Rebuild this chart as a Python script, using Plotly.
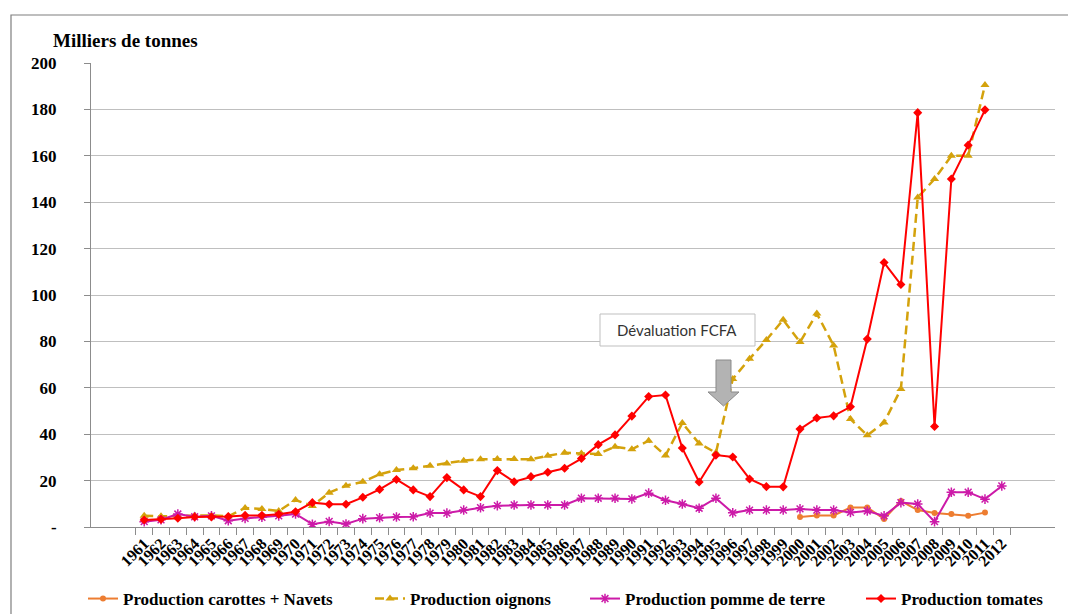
import plotly.graph_objects as go

# Years on the category axis
years = [str(y) for y in range(1961, 2013)]

# Milliers de tonnes (None = no data)
carottes = [None] * 39 + [4.3, 5.0, 5.0, 8.4, 8.4, 3.5, 11.2, 7.3, 6.0, 5.6, 4.9, 6.2, None]
oignons = [4.8, 4.6, 4.8, 5.0, 5.0, 4.6, 8.2, 7.8, 6.9, 11.6,
           9.1, 14.8, 17.8, 19.5, 22.7, 24.6, 25.3, 26.4, 27.4, 28.6,
           29.2, 29.3, 29.3, 29.2, 30.7, 32.0, 31.7, 31.5, 34.6, 33.5,
           37.2, 30.8, 44.8, 36.0, 32.0, 63.8, 72.5, 80.6, 89.3, 79.7,
           92.0, 78.2, 46.5, 39.5, 45.0, 59.5, 142.0, 150.0, 160.0, 160.0,
           190.5, None]
pomme = [2.3, 3.1, 5.6, 4.4, 4.8, 2.7, 3.7, 4.2, 4.8, 5.6,
         1.2, 2.4, 1.3, 3.6, 4.0, 4.3, 4.4, 6.0, 6.0, 7.3,
         8.3, 9.2, 9.5, 9.5, 9.5, 9.5, 12.4, 12.4, 12.4, 12.1,
         14.6, 11.5, 9.9, 8.1, 12.4, 6.1, 7.3, 7.3, 7.3, 7.8,
         7.3, 7.3, 6.3, 6.9, 4.8, 10.5, 9.9, 2.3, 15.0, 15.0,
         12.0, 17.7]
tomates = [3.0, 3.3, 3.8, 4.3, 4.3, 4.5, 5.0, 5.0, 5.5, 6.6,
           10.5, 9.8, 9.8, 12.8, 16.2, 20.5, 16.0, 13.1, 21.3, 16.0,
           13.1, 24.3, 19.5, 21.7, 23.6, 25.3, 29.5, 35.5, 39.7, 47.8,
           56.2, 56.9, 34.0, 19.4, 31.0, 30.2, 20.7, 17.4, 17.3, 42.2,
           47.0, 47.9, 51.8, 81.0, 114.0, 104.5, 178.6, 43.3, 150.0, 164.6,
           179.8, None]

y_ticks = [0, 20, 40, 60, 80, 100, 120, 140, 160, 180, 200]
y_labels = ["-"] + [str(v) for v in y_ticks[1:]]

serif = "Liberation Serif"

# the page puts the figure 8px in from the top-left corner
OFF = 8
W, H = 1076 - OFF, 614 - OFF
L, R, T, B = 91 - OFF, 21, 63 - OFF, 614 - 527
pw, ph = W - L - R, H - T - B


def px(x):
    return (x - OFF - L) / pw


def py(y):
    return (H - B - (y - OFF)) / ph


fig = go.Figure()

fig.add_trace(go.Scatter(
    x=years, y=carottes, name="Production carottes + Navets",
    mode="lines+markers", legend="legend",
    line=dict(color="#ed7d31", width=2),
    marker=dict(symbol="circle", size=6, color="#ed7d31"),
))
fig.add_trace(go.Scatter(
    x=years, y=oignons, name="Production oignons",
    mode="lines+markers", legend="legend2",
    line=dict(color="#d4a20c", width=2.5, dash="9px,5px"),
    marker=dict(symbol="triangle-up", size=8, color="#d4a20c"),
))
fig.add_trace(go.Scatter(
    x=years, y=pomme, name="Production pomme de terre",
    mode="lines+markers", legend="legend3",
    line=dict(color="#cc1aa8", width=2),
    marker=dict(symbol="asterisk-open", size=8, color="#cc1aa8",
                line=dict(color="#cc1aa8", width=1.5)),
))
fig.add_trace(go.Scatter(
    x=years, y=tomates, name="Production tomates",
    mode="lines+markers", legend="legend4",
    line=dict(color="#ff0000", width=2),
    marker=dict(symbol="diamond", size=7, color="#ff0000"),
))

# outer frame, annotation box and block arrow (Dévaluation FCFA)
shapes = [
    dict(type="rect", xref="paper", yref="paper",
         x0=px(11), x1=px(1100), y0=py(15), y1=py(640),
         line=dict(color="#7f7f7f", width=1.2), layer="below"),
    dict(type="rect", xref="paper", yref="paper",
         x0=px(600), x1=px(755), y0=py(346), y1=py(314),
         line=dict(color="#bfbfbf", width=1), fillcolor="white"),
]
ax = [716, 731, 731, 739, 723.5, 708, 716]
ay = [360, 360, 392, 392, 406, 392, 392]
path = "M " + " L ".join(f"{px(a):.5f},{py(b):.5f}" for a, b in zip(ax, ay)) + " Z"
shapes.append(dict(type="path", xref="paper", yref="paper", path=path,
                   fillcolor="#b3b3b3", line=dict(color="#8a8a8a", width=1)))

annotations = [
    dict(text="Milliers de tonnes", xref="paper", yref="paper",
         x=px(51), y=py(40), xanchor="left", yanchor="middle",
         showarrow=False, font=dict(family=serif, size=19, color="black", weight="bold")),
    dict(text="Dévaluation FCFA", xref="paper", yref="paper",
         x=px(677), y=py(330), xanchor="center", yanchor="middle",
         showarrow=False, font=dict(family="Lato", size=15, color="#333333")),
]

leg_font = dict(family=serif, size=17, color="black", weight="bold")
leg_common = dict(orientation="h", yanchor="middle", y=py(599), xanchor="left",
                  font=leg_font, bgcolor="rgba(0,0,0,0)")
text_starts = [123, 410, 625, 901]

fig.update_layout(
    width=W, height=H,
    margin=dict(l=L, r=R, t=T, b=B, autoexpand=False),
    plot_bgcolor="white", paper_bgcolor="white",
    shapes=shapes, annotations=annotations,
    showlegend=True,
    legend=dict(x=px(text_starts[0] - 40), **leg_common),
    legend2=dict(x=px(text_starts[1] - 40), **leg_common),
    legend3=dict(x=px(text_starts[2] - 40), **leg_common),
    legend4=dict(x=px(text_starts[3] - 40), **leg_common),
)

fig.update_xaxes(
    type="category", tickson="boundaries", automargin=False,
    tickmode="array", tickvals=years, ticktext=years,
    ticks="outside", ticklen=7, tickcolor="#8c8c8c",
    showline=True, linecolor="#8c8c8c", linewidth=1,
    showgrid=False, tickangle=-45,
    tickfont=dict(family=serif, size=16, color="black", weight="bold"),
)
fig.update_yaxes(
    range=[0, 200], tickvals=y_ticks, ticktext=y_labels, automargin=False,
    ticks="outside", ticklen=6, tickcolor="#8c8c8c",
    showline=True, linecolor="#8c8c8c", linewidth=1,
    showgrid=True, gridcolor="#bfbfbf", gridwidth=1,
    zeroline=False, ticklabelstandoff=24,
    tickfont=dict(family=serif, size=17, color="black", weight="bold"),
)

fig.write_html("out.html")
